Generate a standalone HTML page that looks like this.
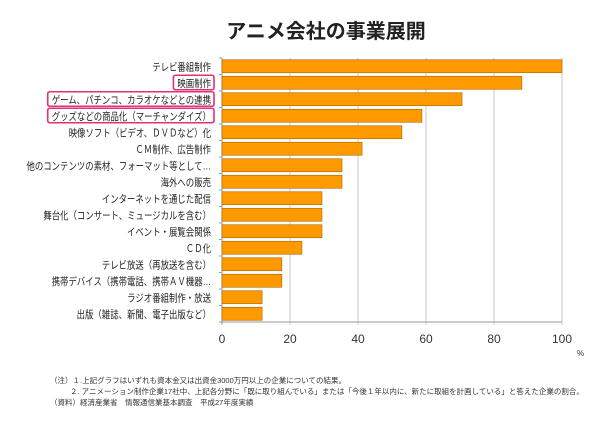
<!DOCTYPE html>
<html><head><meta charset="utf-8"><style>
body{margin:0;background:#fff;width:616px;height:426px;overflow:hidden;font-family:"Liberation Sans","Noto Sans CJK JP",sans-serif}
svg text{font-family:"Liberation Sans","Noto Sans CJK JP",sans-serif}
</style></head><body>
<svg width="616" height="426">
<text x="326" y="38" text-anchor="middle" font-size="20" font-weight="bold" fill="#222">アニメ会社の事業展開</text>
<g id="grid"></g><g id="bars"></g><g id="labels"></g><g id="ticks"></g>
<text x="577" y="356" font-size="8" fill="#333">%</text>
<g font-size="7.5" fill="#333">
<text x="50" y="383">（注）１.上記グラフはいずれも資本金又は出資金3000万円以上の企業についての結果。</text>
<text x="70" y="394">２. アニメーション制作企業17社中、上記各分野に「既に取り組んでいる」または「今後１年以内に、新たに取組を計画している」と答えた企業の割合。</text>
<text x="50" y="405">（資料）経済産業省　情報通信業基本調査　平成27年度実績</text>
</g>
</svg>
<script>
const categories=["テレビ番組制作","映画制作","ゲーム、パチンコ、カラオケなどとの連携","グッズなどの商品化（マーチャンダイズ）","映像ソフト（ビデオ、ＤＶＤなど）化","ＣＭ制作、広告制作","他のコンテンツの素材、フォーマット等として…","海外への販売","インターネットを通じた配信","舞台化（コンサート、ミュージカルを含む）","イベント・展覧会関係","ＣＤ化","テレビ放送（再放送を含む）","携帯デバイス（携帯電話、携帯ＡＶ機器…","ラジオ番組制作・放送","出版（雑誌、新聞、電子出版など）"];
const values=[100,88.2,70.6,58.8,52.9,41.2,35.3,35.3,29.4,29.4,29.4,23.5,17.6,17.6,11.8,11.8];
const ticks=[0,20,40,60,80,100];
const highlighted=[1,2,3];
const ns="http://www.w3.org/2000/svg";
const X0=222,X1=562,Y0=58,Y1=322;
const xs=v=>X0+(X1-X0)*v/100;
const rowH=(Y1-Y0)/categories.length;
function mk(t,a,p){const e=document.createElementNS(ns,t);for(const k in a)e.setAttribute(k,a[k]);p.appendChild(e);return e;}
const grid=document.getElementById('grid'),bars=document.getElementById('bars'),labels=document.getElementById('labels'),tk=document.getElementById('ticks');
ticks.forEach(t=>{
 const l=mk('line',{x1:xs(t),x2:xs(t),y1:Y0,y2:Y1+3,stroke:t===0?'#999':'#c8c8c8','stroke-width':1},grid);
 
 
 const tx=mk('text',{x:xs(t),y:343,'text-anchor':'middle','font-size':12,fill:'#333'},tk);tx.textContent=t;
 
 
});
const ax=mk('line',{x1:X0-3,x2:X1,y1:Y1,y2:Y1,stroke:'#999'},grid);


categories.forEach((c,i)=>{
 const yc=Y0+rowH*(i+0.5);
 const r=mk('rect',{x:X0,y:yc-6.5,width:xs(values[i])-X0,height:13,fill:'#ff9900',stroke:'#a86400','stroke-width':0.6},bars);
 
 
 mk('line',{x1:X0-3,x2:X0,y1:Y0+rowH*i,y2:Y0+rowH*i,stroke:'#999'},grid);
 const t=mk('text',{x:211,y:yc+4,'text-anchor':'end','font-size':10.5,fill:'#222'},labels);t.textContent=c;
 
 
 const w0=t.getComputedTextLength();
 const w=w0*0.8;
 t.setAttribute('textLength',w);
 t.setAttribute('lengthAdjust','spacingAndGlyphs');
 if(highlighted.includes(i)){
  const b=mk('rect',{x:211-w-4,y:yc-7.5,width:w+7,height:14.5,rx:2,fill:'none',stroke:'#e0307a','stroke-width':1.6},labels);
  
  
 }
});
</script>
</body></html>
